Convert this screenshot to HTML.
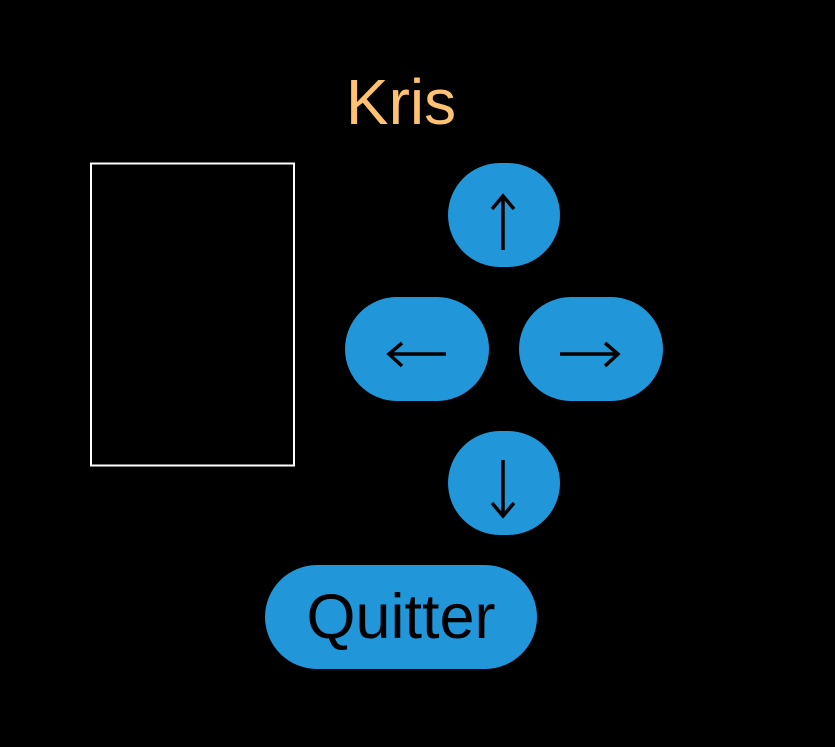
<!DOCTYPE html>
<html><head><meta charset="utf-8"><style>
html,body{margin:0;padding:0;background:#000;width:835px;height:747px;overflow:hidden}
</style></head><body>
<svg width="835" height="747" xmlns="http://www.w3.org/2000/svg">
<rect width="835" height="747" fill="#000"/>
<text x="401" y="124" font-family="Liberation Sans, sans-serif" font-size="64" fill="#FFC273" text-anchor="middle">Kris</text>
<rect x="91" y="163.5" width="203" height="302" fill="none" stroke="#fff" stroke-width="2"/>
<g fill="#2196D9">
<rect x="448" y="163" width="112" height="104" rx="52"/>
<rect x="345" y="297" width="144" height="104" rx="52"/>
<rect x="519" y="297" width="144" height="104" rx="52"/>
<rect x="448" y="431" width="112" height="104" rx="52"/>
<rect x="265" y="565" width="272" height="104" rx="52"/>
</g>
<g stroke="#000" stroke-width="3.5" fill="none" stroke-linecap="butt" stroke-linejoin="miter">
<line x1="503" y1="250" x2="503" y2="196"/>
<polyline points="492,209 503,196 514,209"/>
<line x1="446" y1="354" x2="389" y2="354"/>
<polyline points="402,343 389,354 402,366"/>
<line x1="560" y1="354" x2="618" y2="354"/>
<polyline points="605,343 618,354 605,366"/>
<line x1="503" y1="460" x2="503" y2="516"/>
<polyline points="492,503 503,516 514,503"/>
</g>
<text x="401" y="638" font-family="Liberation Sans, sans-serif" font-size="63" fill="#000" text-anchor="middle">Quitter</text>
</svg>
</body></html>
